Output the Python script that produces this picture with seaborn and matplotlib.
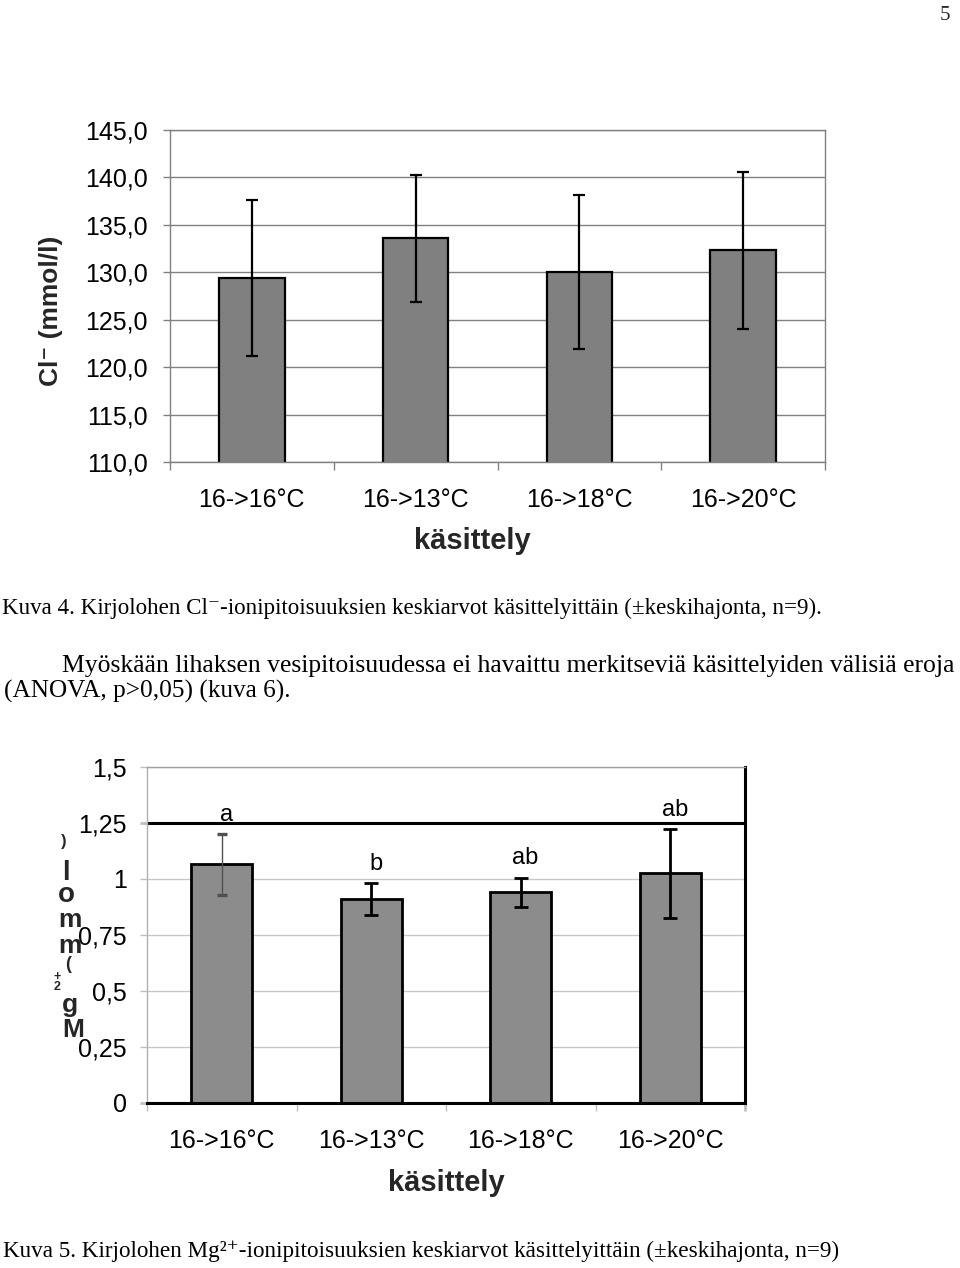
import numpy as np
import pandas as pd
import seaborn as sns
import matplotlib
matplotlib.use("Agg")
import matplotlib.pyplot as plt
from matplotlib.ticker import FixedLocator

# ---------------- data ----------------
categories = ["16->16°C", "16->13°C", "16->18°C", "16->20°C"]

cl_mean = [129.4, 133.6, 130.0, 132.3]
cl_sd = [8.2, 6.7, 8.1, 8.3]
cl_ticks = [110, 115, 120, 125, 130, 135, 140, 145]
cl_ticklabels = ["110,0", "115,0", "120,0", "125,0", "130,0", "135,0", "140,0", "145,0"]

mg_mean = [1.065, 0.91, 0.94, 1.025]
mg_sd = [0.135, 0.07, 0.065, 0.197]
mg_letters = ["a", "b", "ab", "ab"]
mg_ticks = [0, 0.25, 0.5, 0.75, 1, 1.25, 1.5]
mg_ticklabels = ["0", "0,25", "0,5", "0,75", "1", "1,25", "1,5"]

# ---------------- style ----------------
sns.set_theme(style="white")
SANS = ["Liberation Sans", "DejaVu Sans"]
SERIF = ["Liberation Serif", "DejaVu Serif"]
plt.rcParams["font.family"] = SANS

W, H = 960, 1268
fig = plt.figure(figsize=(W / 100, H / 100), dpi=100)
fig.patch.set_facecolor("white")


def fx(x):
    return x / W


def fy(y):
    return 1 - y / H


df_cl = pd.DataFrame({"kasittely": categories, "arvo": cl_mean})
df_mg = pd.DataFrame({"kasittely": categories, "arvo": mg_mean})

# ---------------- top chart: Cl- ----------------
ax1 = fig.add_axes([fx(170), fy(462), 655 / W, 332 / H])
ax1.set_axisbelow(True)
sns.barplot(data=df_cl, x="kasittely", y="arvo", color="#808080", saturation=1,
            edgecolor="black", linewidth=1.6, width=0.40, errorbar=None, ax=ax1)
ax1.errorbar(range(len(categories)), cl_mean, yerr=cl_sd, fmt="none",
             ecolor="black", elinewidth=1.6, capsize=4.5, capthick=1.6, zorder=5)
ax1.set_xlim(-0.5, 3.5)
ax1.set_ylim(110, 145)
ax1.yaxis.set_major_locator(FixedLocator(cl_ticks))
ax1.set_yticklabels(cl_ticklabels, fontsize=18, color="black")
ax1.tick_params(axis="y", length=5, width=1, color="#808080", pad=11, left=True)
ax1.xaxis.set_major_locator(FixedLocator(range(4)))
ax1.set_xticklabels(categories, fontsize=18, color="black")
ax1.xaxis.set_minor_locator(FixedLocator([-0.5, 0.5, 1.5, 2.5, 3.5]))
ax1.tick_params(axis="x", which="major", length=0, pad=19)
ax1.tick_params(axis="x", which="minor", length=6, width=1, color="#808080", bottom=True)
ax1.yaxis.grid(True, color="#808080", linewidth=1)
ax1.xaxis.grid(False)
for s in ax1.spines.values():
    s.set_color("#808080")
    s.set_linewidth(1)
ax1.set_xlabel("")
ax1.set_ylabel("")
fig.text(fx(51), fy(311), "Cl⁻ (mmol/l)", rotation=90, ha="center", va="center",
         fontsize=19, fontweight="bold", family=SANS)
fig.text(fx(472), fy(541), "käsittely", ha="center", va="center",
         fontsize=21, fontweight="bold", family=SANS)

# ---------------- bottom chart: Mg2+ ----------------
ax2 = fig.add_axes([fx(147), fy(1103), 598 / W, 336 / H])
ax2.set_axisbelow(True)
sns.barplot(data=df_mg, x="kasittely", y="arvo", color="#8c8c8c", saturation=1,
            edgecolor="black", linewidth=2, width=0.41, errorbar=None, ax=ax2)
eb0 = ax2.errorbar([0], mg_mean[:1], yerr=mg_sd[:1], fmt="none", ecolor="#505050",
                   elinewidth=1, capsize=3.5, capthick=2.4, zorder=5)
for cap in eb0[1]:
    cap.set_color("black")
ax2.errorbar(range(1, len(categories)), mg_mean[1:], yerr=mg_sd[1:], fmt="none",
             ecolor="black", elinewidth=2, capsize=5, capthick=2, zorder=5)
for i, (m, s, lab) in enumerate(zip(mg_mean, mg_sd, mg_letters)):
    ax2.text(i + 0.03, m + s + 0.06, lab, ha="center", va="baseline", fontsize=17,
             color="black", family=SANS)
ax2.set_xlim(-0.5, 3.5)
ax2.set_ylim(0, 1.5)
ax2.yaxis.set_major_locator(FixedLocator(mg_ticks))
ax2.set_yticklabels(mg_ticklabels, fontsize=18, color="black")
ax2.tick_params(axis="y", length=5, width=1, color="#c0c0c0", pad=9.5, left=True)
ax2.xaxis.set_major_locator(FixedLocator(range(4)))
ax2.set_xticklabels(categories, fontsize=18, color="black")
ax2.xaxis.set_minor_locator(FixedLocator([-0.5, 0.5, 1.5, 2.5, 3.5]))
ax2.tick_params(axis="x", which="major", length=0, pad=19)
ax2.tick_params(axis="x", which="minor", length=6, width=1, color="#c0c0c0", bottom=True)
ax2.yaxis.grid(True, color="#c8c8c8", linewidth=1)
ax2.xaxis.grid(False)
ax2.spines["left"].set_color("#b0b0b0")
ax2.spines["left"].set_linewidth(1)
ax2.spines["top"].set_color("#a0a0a0")
ax2.spines["top"].set_linewidth(1)
ax2.spines["right"].set_color("black")
ax2.spines["right"].set_linewidth(2.2)
ax2.spines["bottom"].set_color("black")
ax2.spines["bottom"].set_linewidth(2.2)
# emphasised lines at 0 and 1.25
yt = ax2.yaxis.get_major_ticks()
gl = ax2.get_ygridlines()
for idx in (0, 5):
    yt[idx].tick1line.set_color("black")
    yt[idx].tick1line.set_markeredgewidth(2)
    gl[idx].set_color("black")
    gl[idx].set_linewidth(2.2)
mt = ax2.xaxis.get_minor_ticks()
mt[-1].tick1line.set_color("black")
mt[-1].tick1line.set_markeredgewidth(2)
ax2.set_xlabel("")
ax2.set_ylabel("")
fig.text(fx(446), fy(1183), "käsittely", ha="center", va="center",
         fontsize=21, fontweight="bold", family=SANS)

# stacked (garbled) vertical y-label "Mg2+ (mmol/l)"
stack = [(")", 64, 846, 12), ("l\no", 66, 902, 20),
         ("m", 70, 927, 19), ("m", 70, 953, 19),
         ("(", 68, 969, 13), ("+\n2", 57, 990, 9),
         ("g", 69.5, 1012, 19), ("M", 73, 1037, 19)]
for ch, x, y, size in stack:
    fig.text(fx(x), fy(y), ch, ha="center", va="baseline", fontsize=size,
             fontweight="bold", family=SANS, linespacing=0.8)

# ---------------- page text (serif) ----------------
renderer = fig.canvas.get_renderer()


def fit_text(x, y, s, target_w, base=16):
    t = fig.text(fx(x), fy(y), s, ha="left", va="baseline", fontsize=base,
                 family=SERIF, color="black")
    w = t.get_window_extent(renderer).width
    t.set_fontsize(base * target_w / w)
    return t


fig.text(fx(950), fy(20), "5", ha="right", va="baseline", fontsize=15, family=SERIF)
fit_text(2, 614, "Kuva 4. Kirjolohen Cl⁻-ionipitoisuuksien keskiarvot käsittelyittäin "
                 "(±keskihajonta, n=9).", 822)
fit_text(62, 672, "Myöskään lihaksen vesipitoisuudessa ei havaittu merkitseviä "
                  "käsittelyiden välisiä eroja", 893)
fit_text(4, 698, "(ANOVA, p>0,05) (kuva 6).", 287)
fit_text(3, 1257, "Kuva 5. Kirjolohen Mg²⁺-ionipitoisuuksien keskiarvot käsittelyittäin "
                  "(±keskihajonta, n=9)", 836)

fig.savefig("out.png", dpi=100, facecolor="white")
